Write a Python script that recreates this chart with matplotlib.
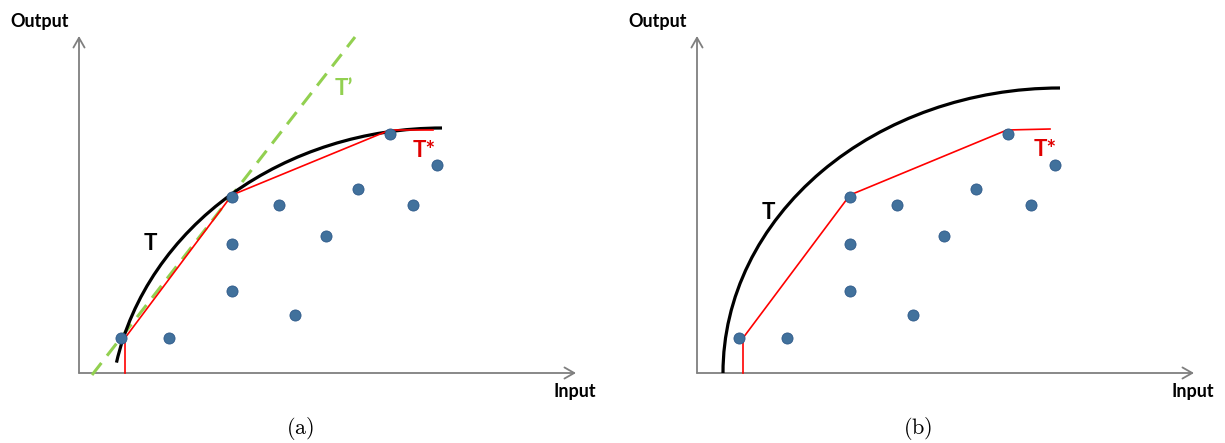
import matplotlib
matplotlib.use("Agg")
import matplotlib.pyplot as plt
from matplotlib.patches import Arc, FancyArrowPatch

# ---- data (panel units: origin at axes corner, 1 unit ~ 1 px) ----
firm_x = [42, 90, 153, 200, 153, 153, 216, 247, 279, 311, 334, 358]
firm_y = [35, 35, 176, 168, 129, 82, 58, 137, 184, 239, 168, 208]

dea_a_x = [46, 46, 153, 311, 354]
dea_a_y = [0, 35, 178, 243, 243]
dea_b_x = [46, 46, 153, 310, 353]
dea_b_y = [0, 35, 178, 243, 244]

tangent_x = [13, 276]
tangent_y = [-2, 336]

# true frontier T as elliptic arcs: (cx, cy, width, height, theta1, theta2)
frontier_a = (363, -47, 664, 584, 90, 170)
frontier_b = (363, 0, 674, 570, 90, 180)

captions = ["(a)", "(b)"]

W, H = 1225, 443
fig = plt.figure(figsize=(W / 100, H / 100), dpi=100)
plt.rcParams["mathtext.fontset"] = "cm"

FONT = "Lato"
axis_col = "#7f7f7f"
dot_col = "#41719C"
dot_edge = "#2F5A8A"

def panel(left_px, width_px, origin_px, dea_x, dea_y, arc, label_T, caption, tangent):
    ax = fig.add_axes([left_px / W, 0, width_px / W, 1])
    ox, oy = origin_px
    ax.set_xlim(-(ox - left_px), left_px + width_px - ox)
    ax.set_ylim(-(H - oy), oy)
    ax.axis("off")
    # axes arrows
    ax.add_patch(FancyArrowPatch((0, 0), (497, 0), arrowstyle="->,head_length=7,head_width=4",
                                 color=axis_col, lw=1.3, shrinkA=0, shrinkB=0))
    ax.add_patch(FancyArrowPatch((0, 0), (0, 337), arrowstyle="->,head_length=7,head_width=4",
                                 color=axis_col, lw=1.3, shrinkA=0, shrinkB=0))
    ax.text(-39, 352, "Output", fontfamily=FONT, fontweight="bold", fontsize=13,
            ha="center", va="center")
    ax.text(496, -19, "Input", fontfamily=FONT, fontweight="bold", fontsize=13,
            ha="center", va="center")
    # true frontier
    cx, cy, w, h, t1, t2 = arc
    ax.add_patch(Arc((cx, cy), w, h, theta1=t1, theta2=t2, color="black", lw=2.3, zorder=3))
    if tangent is not None:
        ax.plot(tangent[0], tangent[1], color="#92D050", lw=2.2, ls=(0, (5, 3)),
                zorder=2, clip_on=False)
        ax.text(265, 285, "T\u2019", color="#92D050", fontfamily=FONT, fontweight="bold",
                fontsize=16, ha="center", va="center")
    # DEA frontier
    ax.plot(dea_x, dea_y, color="#FF0000", lw=1.2, zorder=4)
    ax.scatter(firm_x, firm_y, s=64, color=dot_col, edgecolor=dot_edge, lw=0.6, zorder=5)
    ax.text(label_T[0], label_T[1], "T", fontfamily=FONT, fontweight="bold", fontsize=16,
            ha="center", va="center")
    ax.text(label_T[2], label_T[3], "T*", color="#E00000", fontfamily=FONT, fontweight="bold",
            fontsize=16, ha="center", va="center")
    ax.text(221, -55, r"$\mathrm{" + caption + "}$", fontsize=16, ha="center", va="center")
    return ax

panel(0, 612, (79, 373), dea_a_x, dea_a_y, frontier_a, (71, 130, 345, 223), captions[0],
      (tangent_x, tangent_y))
panel(612, 613, (697, 373), dea_b_x, dea_b_y, frontier_b, (71, 161, 348, 224), captions[1],
      None)

fig.savefig("out.png", dpi=100)
